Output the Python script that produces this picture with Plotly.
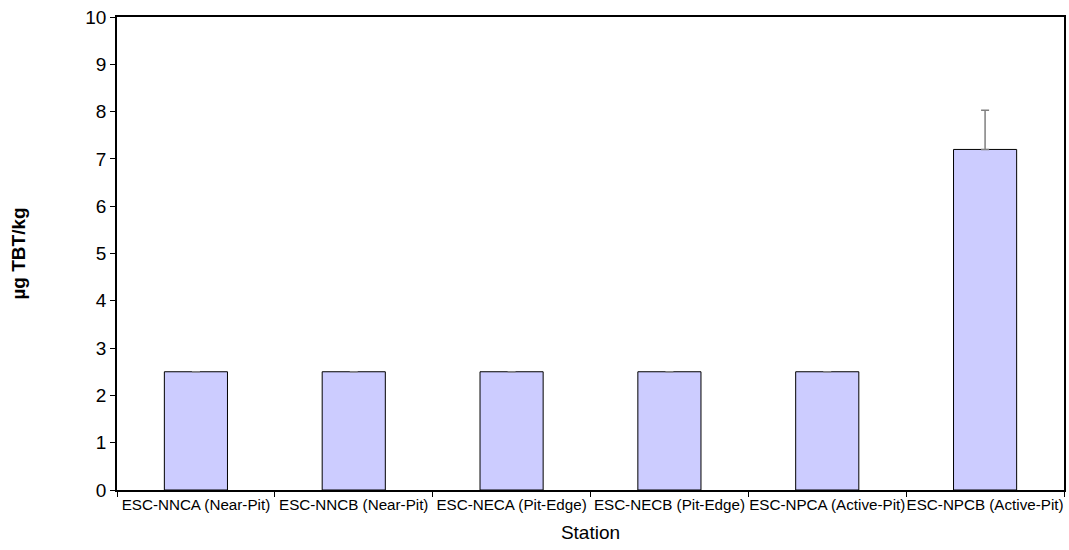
import plotly.graph_objects as go

stations = ["ESC-NNCA (Near-Pit)", "ESC-NNCB (Near-Pit)", "ESC-NECA (Pit-Edge)",
            "ESC-NECB (Pit-Edge)", "ESC-NPCA (Active-Pit)", "ESC-NPCB (Active-Pit)"]
tbt = [2.5, 2.5, 2.5, 2.5, 2.5, 7.2]
tbt_err = [0, 0, 0, 0, 0, 0.83]
y_ticks = list(range(0, 11))

fig = go.Figure(go.Bar(
    x=stations, y=tbt,
    marker=dict(color="#CCCCFF", line=dict(color="black", width=1)),
    error_y=dict(type="data", array=tbt_err, symmetric=False, arrayminus=[0]*6,
                 color="#808080", thickness=1.5, width=4),
    width=0.4,
))

font = "Liberation Sans, Arial, sans-serif"
fig.update_layout(
    width=1069, height=550,
    margin=dict(l=117, r=5, t=17, b=60),
    paper_bgcolor="white", plot_bgcolor="white",
    font=dict(family=font, color="black"),
    showlegend=False,
    xaxis=dict(
        title=dict(text="Station", font=dict(size=19), standoff=14),
        tickfont=dict(size=15.2), tickangle=0, automargin=False,
        showline=True, linecolor="black", linewidth=1.5, mirror=True,
        ticks="outside", ticklen=5, tickcolor="black", tickson="boundaries",
        showgrid=False,
    ),
    yaxis=dict(
        title=dict(text="<b>µg TBT/kg</b>", font=dict(size=19), standoff=55),
        range=[0, 10], tickvals=y_ticks, tickfont=dict(size=19), automargin=False,
        showline=True, linecolor="black", linewidth=1.5, mirror=True,
        ticks="outside", ticklen=5, tickcolor="black",
        showgrid=False, zeroline=False,
    ),
)

fig.write_html("out.html", config={"displayModeBar": False},
               post_script="document.body.style.margin='0';")
